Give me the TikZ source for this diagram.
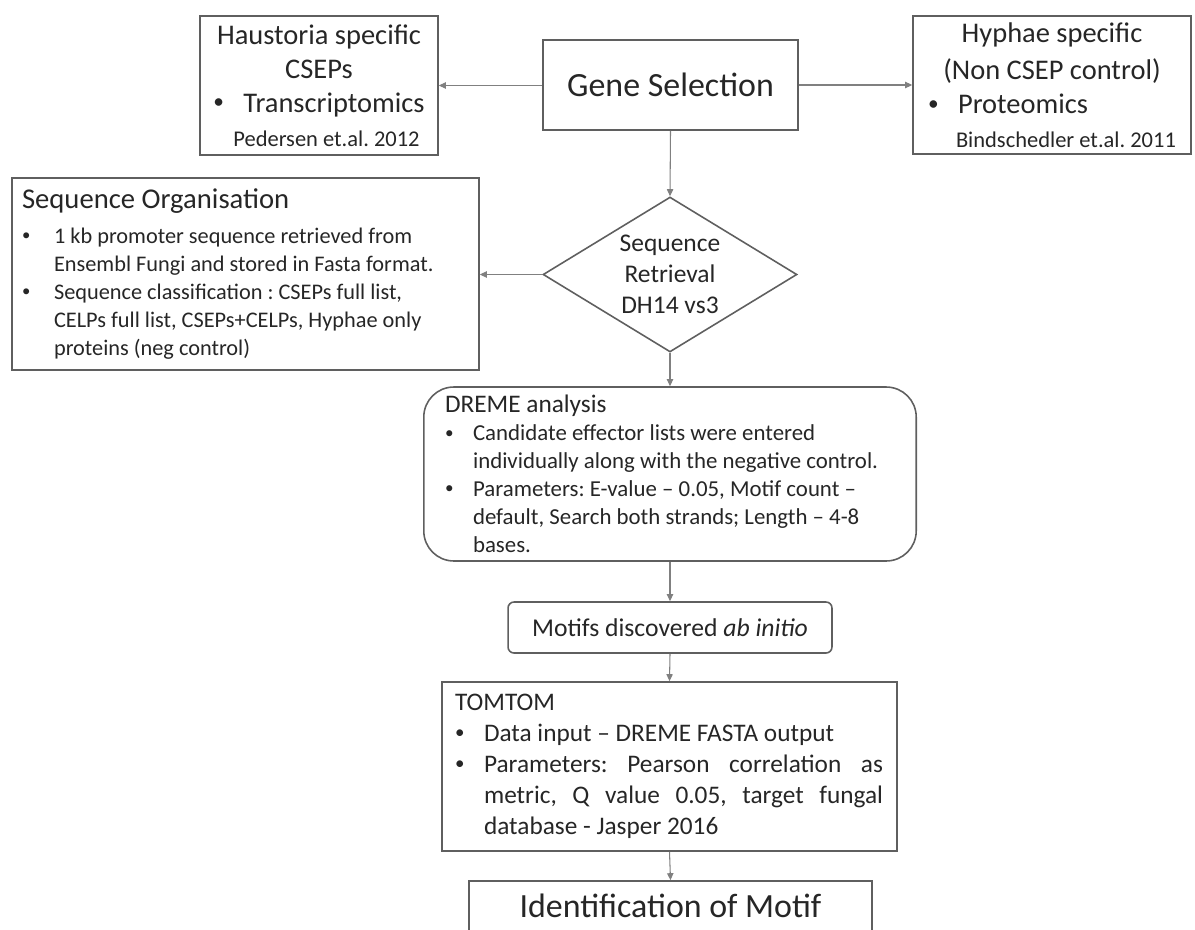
\documentclass[tikz,border=0pt]{standalone}
\usepackage{graphicx}
\usepackage{fontspec}
\setmainfont{Carlito}
\usetikzlibrary{shapes.geometric,arrows.meta}

\definecolor{inktext}{HTML}{262626}
\definecolor{boxline}{HTML}{5F5F5F}
\definecolor{arrowline}{HTML}{808080}

\frenchspacing
\newcommand{\setfs}[2]{\fontsize{#1pt}{#2pt}\selectfont}
\newcommand{\bitem}[1]{\makebox[#1][l]{\raisebox{0.12em}{\scalebox{0.75}{\textbullet}}}}

\begin{document}
\begin{tikzpicture}[x=0.02cm,y=-0.02cm,
    box/.style={draw=boxline,line width=0.9pt,text=inktext,inner sep=0pt},
    conn/.style={draw=arrowline,line width=0.6pt,-{Triangle[length=4pt,width=3.6pt]}}]
        \useasboundingbox (0,0) rectangle (1195,929);
        \clip (0,0) rectangle (1195,929);

        \node (gene) at (670.5,85) [box,minimum width=5.1cm,minimum height=1.8cm,font=\setfs{19.3}{23}] {Gene Selection};
        \node (haus) at (319,85.5) [box,minimum width=4.76cm,minimum height=2.78cm,align=flush center,font=\setfs{16.2}{19.3}]
            {Haustoria specific\\ CSEPs\\ \bitem{0.6cm}Transcriptomics\\ {\setfs{12.8}{15}\hspace*{0.3cm}Pedersen et.al. 2012}};
        \node (hyph) at (1052,85) [box,minimum width=5.56cm,minimum height=2.76cm,text width=4.96cm,align=flush center,font=\setfs{16.2}{19.3}]
            {Hyphae specific\\[2pt] (Non CSEP control)\\ \makebox[4.96cm][l]{\bitem{0.6cm}Proteomics}\\ \makebox[4.96cm][r]{\setfs{12.8}{15}Bindschedler et.al. 2011}};

        \node (retr) at (670,274.5) [box,diamond,aspect=1.64,minimum width=5.08cm,minimum height=3.1cm,align=flush center,font=\setfs{14.5}{17.5}]
            {Sequence\\ Retrieval\\ DH14 vs3};
        \node (seqorg) at (245.5,274) [box,minimum width=9.34cm,minimum height=3.84cm,text width=8.94cm,align=flush left,font=\setfs{12.7}{15.9}]
            {{\setfs{16.3}{19}Sequence Organisation\par}\vspace{4pt}
             \bitem{0.64cm}1 kb promoter sequence retrieved from\\
             \hspace*{0.64cm}Ensembl Fungi and stored in Fasta format.\\
             \bitem{0.64cm}Sequence classification : CSEPs full list,\\
             \hspace*{0.64cm}CELPs full list, CSEPs+CELPs, Hyphae only\\
             \hspace*{0.64cm}proteins (neg control)};

        \node (dreme) at (670,474) [box,rounded corners=0.6cm,minimum width=9.85cm,minimum height=3.48cm,text width=9.0cm,align=flush left,font=\setfs{13}{15.9}]
            {{\setfs{14.4}{15.9}DREME analysis}\\
             \bitem{0.56cm}Candidate effector lists were entered\\
             \hspace*{0.56cm}individually along with the negative control.\\
             \bitem{0.56cm}Parameters: E-value – 0.05, Motif count –\\
             \hspace*{0.56cm}default, Search both strands; Length – 4-8\\
             \hspace*{0.56cm}bases.};
        \node (motif) at (670,627.5) [box,rounded corners=0.12cm,minimum width=6.48cm,minimum height=1.02cm,font=\setfs{14.6}{17}]
            {Motifs discovered \textit{ab initio}};
        \node (tomtom) at (669.5,766.5) [box,minimum width=9.1cm,minimum height=3.38cm,text width=8.58cm,align=flush left,font=\setfs{14.4}{17.6}]
            {TOMTOM\\
             \bitem{0.58cm}Data input – DREME FASTA output\\
             \bitem{0.58cm}\makebox[7.98cm][s]{Parameters: Pearson correlation as}\\
             \hspace*{0.58cm}\makebox[7.98cm][s]{metric, Q value 0.05, target fungal}\\
             \hspace*{0.58cm}database - Jasper 2016};
        \node (ident) at (670.5,906) [box,minimum width=8.06cm,minimum height=1.0cm,font=\setfs{19.3}{23}] {Identification of Motif};

        \draw[conn] (gene.west |- haus.east) -- (haus.east);
        \draw[conn] (gene.east |- hyph.west) -- (hyph.west);
        \draw[conn] (gene.south) -- (retr.north);
        \draw[conn] (retr.west) -- (retr.west -| seqorg.east);
        \draw[conn] (retr.south) -- (dreme.north);
        \draw[conn] (dreme.south) -- (motif.north);
        \draw[conn] (motif.south) -- (tomtom.north);
        \draw[conn] (tomtom.south) -- (ident.north);
    \end{tikzpicture}
\end{document}
